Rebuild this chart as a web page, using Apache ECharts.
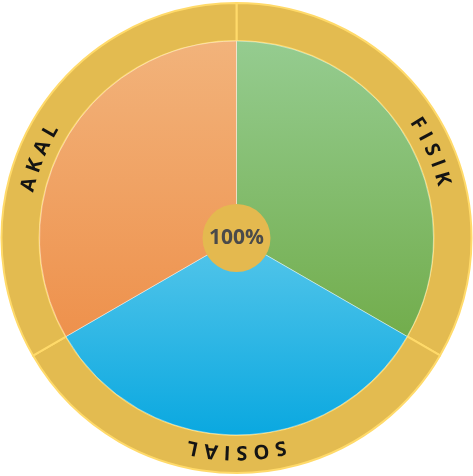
<!DOCTYPE html>
<html>
<head>
<meta charset="utf-8">
<script src="https://cdn.jsdelivr.net/npm/echarts@6/dist/echarts.min.js"></script>
<style>
html,body{margin:0;padding:0;background:#fff;}
#c{width:473px;height:476px;}
</style>
</head>
<body>
<div id="c"></div>
<script>
// ---- data ----
var categories = ['FISIK', 'SOSIAL', 'AKAL'];
var values = [33.33, 33.33, 33.34];
var totalLabel = '100%';
var topColors = ['#95CC90', '#55C6EA', '#F2B37B'];
var bottomColors = ['#72AD4C', '#0AA8E0', '#EE914C'];

// ---- layout / style ----
var labelCenterAngles = [66, 180, 292]; // degrees clockwise from top
var ringColor = '#E3BB50';
var ringSepColor = '#FFDA6A';

var chart = echarts.init(document.getElementById('c'));
var W = chart.getWidth(), H = chart.getHeight();
var cx = W / 2, cy = H / 2;
var pieR = 197, ringR = 235, hubR = 34, textR = 214;

function grad(i) {
  return new echarts.graphic.LinearGradient(0, 0, 0, 1, [
    {offset: 0, color: topColors[i]},
    {offset: 1, color: bottomColors[i]}
  ]);
}

var mainData = categories.map(function (c, i) {
  return {name: c, value: values[i], itemStyle: {color: grad(i)}};
});
var ringData = categories.map(function (c, i) {
  return {name: c, value: values[i]};
});

// curved letters
var font = 'bold 20px "Open Sans"';
var ctx = document.createElement('canvas').getContext('2d');
ctx.font = font;
var ls = 6;
var graphics = [];
categories.forEach(function (word, k) {
  var letters = word.split('');
  var widths = letters.map(function (ch) { return ctx.measureText(ch).width; });
  var total = widths.reduce(function (a, b) { return a + b; }, 0) + ls * (letters.length - 1);
  var s = -total / 2;
  letters.forEach(function (ch, j) {
    var pos = s + widths[j] / 2;
    var th = (labelCenterAngles[k] * Math.PI / 180) + pos / textR;
    graphics.push({
      type: 'text',
      x: cx + textR * Math.sin(th),
      y: cy - textR * Math.cos(th),
      rotation: -th,
      z: 100,
      style: {
        text: ch,
        x: 0, y: 0,
        align: 'center',
        verticalAlign: 'middle',
        font: font,
        fill: '#141414',
        shadowBlur: 2,
        shadowColor: 'rgba(0,0,0,0.4)'
      }
    });
    s += widths[j] + ls;
  });
});

chart.setOption({
  animation: false,
  series: [
    {
      type: 'pie',
      center: ['50%', '50%'],
      radius: [pieR, ringR],
      startAngle: 90,
      clockwise: true,
      silent: true,
      label: {show: false},
      labelLine: {show: false},
      itemStyle: {color: ringColor, borderColor: ringSepColor, borderWidth: 2},
      data: ringData
    },
    {
      type: 'pie',
      center: ['50%', '50%'],
      radius: [0, pieR],
      startAngle: 90,
      clockwise: true,
      silent: true,
      label: {show: false},
      labelLine: {show: false},
      itemStyle: {borderColor: 'rgba(255,255,255,0.4)', borderWidth: 1},
      data: mainData
    },
    {
      type: 'pie',
      center: ['50%', '50%'],
      radius: [0, hubR],
      silent: true,
      z: 5,
      label: {
        show: true,
        position: 'center',
        formatter: totalLabel,
        fontSize: 21,
        fontWeight: 'bold',
        fontFamily: 'Open Sans',
        color: '#4A4A4A'
      },
      labelLine: {show: false},
      itemStyle: {color: '#E4B94F'},
      data: [{value: 1, name: 'total'}]
    }
  ],
  graphic: graphics
});
</script>
</body>
</html>
